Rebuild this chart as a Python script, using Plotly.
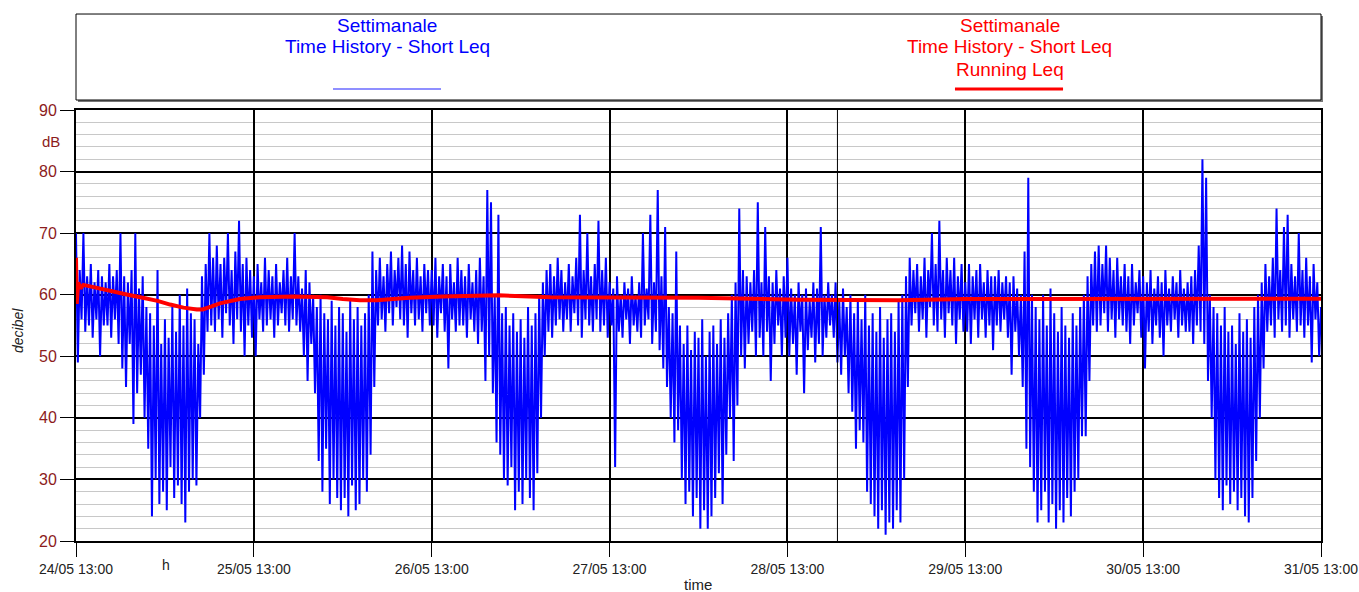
import pandas as pd
import plotly.graph_objects as go

blue = '#0000ff'
legend_blue = '#6a6aff'
red = '#ff0000'
tick_red = '#8c1c1c'
minor_grey = '#c8c8c8'
font_family = 'Arial, Liberation Sans, sans-serif'

start_time = '2023-05-24 13:00'
end_time = '2023-05-31 13:00'
marker_time = '2023-05-28 19:45'

# Short Leq, one value every 15 minutes from 13:00 (dB)
day1 = [70, 49, 64, 56, 70, 54, 63, 55,
        65, 53, 62, 56, 64, 50, 63, 55,
        62, 55, 65, 53, 63, 56, 64, 52,
        70, 48, 63, 45, 62, 52, 64, 39,
        70, 44, 61, 47, 63, 40, 58, 35,
        57, 24, 55, 30, 64, 26, 52, 28,
        56, 25, 53, 32, 58, 27, 54, 29,
        60, 26, 55, 23, 61, 28, 57, 30,
        56, 29, 52, 40, 63, 47, 65, 54,
        70, 55, 66, 54, 68, 56, 65, 53,
        66, 57, 70, 55, 64, 52, 67, 56,
        72, 54, 65, 50, 66, 55, 64, 53]
day2 = [63, 50, 65, 56, 62, 54, 66, 55,
        64, 56, 63, 53, 65, 55, 62, 57,
        64, 55, 66, 54, 63, 56, 70, 55,
        63, 54, 61, 50, 64, 46, 62, 52,
        60, 44, 58, 33, 60, 28, 57, 35,
        56, 26, 59, 30, 55, 27, 58, 25,
        57, 27, 54, 24, 59, 29, 56, 25,
        58, 26, 55, 30, 57, 28, 60, 34,
        67, 45, 64, 55, 66, 56, 63, 54,
        65, 57, 67, 55, 64, 58, 66, 56,
        68, 55, 65, 53, 67, 57, 64, 55,
        66, 56, 63, 54, 65, 57, 64, 55]
day3 = [64, 55, 66, 53, 63, 57, 65, 54,
        63, 48, 65, 56, 62, 54, 66, 55,
        64, 55, 63, 53, 65, 56, 62, 54,
        64, 52, 66, 54, 63, 46, 77, 50,
        75, 44, 60, 36, 73, 34, 57, 30,
        58, 29, 55, 32, 57, 25, 54, 28,
        56, 26, 53, 30, 58, 27, 55, 25,
        57, 31, 60, 40, 62, 50, 64, 54,
        65, 53, 63, 55, 66, 56, 64, 54,
        62, 56, 65, 54, 63, 57, 66, 55,
        73, 53, 64, 56, 70, 55, 63, 54,
        65, 56, 72, 54, 64, 55, 66, 53]
day4 = [62, 55, 61, 32, 63, 54, 60, 53,
        62, 56, 61, 52, 63, 55, 60, 54,
        62, 53, 70, 55, 61, 56, 73, 52,
        62, 54, 77, 51, 63, 48, 71, 45,
        58, 40, 57, 36, 67, 38, 55, 30,
        52, 26, 55, 28, 51, 24, 54, 27,
        53, 22, 56, 25, 50, 22, 54, 24,
        55, 27, 52, 31, 56, 26, 53, 34,
        57, 40, 60, 33, 62, 42, 74, 50,
        64, 48, 63, 52, 62, 54, 64, 50,
        75, 53, 62, 50, 71, 54, 63, 46,
        62, 52, 64, 55, 61, 50, 63, 53]
day5 = [66, 50, 61, 52, 60, 47, 62, 54,
        60, 44, 61, 51, 59, 53, 62, 49,
        61, 52, 71, 50, 60, 53, 62, 55,
        60, 53, 62, 49, 59, 47, 61, 50,
        58, 44, 60, 41, 57, 35, 59, 38,
        56, 36, 60, 28, 55, 26, 57, 24,
        54, 22, 58, 25, 53, 21, 56, 23,
        57, 22, 54, 25, 59, 23, 60, 30,
        63, 45, 66, 55, 64, 57, 65, 54,
        63, 56, 66, 53, 64, 58, 70, 55,
        65, 54, 72, 56, 64, 53, 66, 57,
        64, 55, 66, 52, 63, 56, 65, 54]
day6 = [62, 54, 65, 52, 63, 56, 64, 53,
        65, 56, 62, 53, 64, 55, 63, 51,
        63, 55, 64, 54, 62, 56, 63, 53,
        62, 47, 63, 54, 61, 50, 60, 45,
        67, 35, 79, 32, 60, 28, 58, 23,
        56, 25, 60, 28, 55, 23, 61, 26,
        57, 22, 54, 25, 58, 23, 55, 27,
        53, 24, 57, 28, 55, 30, 58, 37,
        60, 37, 63, 46, 65, 55, 67, 54,
        68, 55, 65, 57, 68, 54, 66, 56,
        64, 53, 66, 56, 63, 55, 65, 54,
        63, 52, 65, 55, 62, 57, 64, 53]
day7 = [63, 48, 62, 54, 64, 52, 61, 55,
        63, 53, 62, 50, 64, 55, 61, 54,
        63, 56, 62, 53, 64, 55, 61, 54,
        62, 54, 63, 52, 64, 55, 68, 54,
        82, 52, 79, 46, 60, 40, 58, 30,
        57, 27, 55, 25, 58, 29, 54, 26,
        55, 28, 52, 25, 57, 27, 54, 24,
        56, 23, 53, 27, 58, 33, 60, 40,
        62, 48, 65, 54, 63, 55, 66, 53,
        74, 56, 64, 54, 71, 55, 73, 53,
        65, 56, 63, 54, 70, 55, 64, 53,
        66, 55, 63, 49, 65, 56, 62, 50,
        58]

# Running Leq: hours after start, dB
running_hours = [0, 0.1, 0.3, 0.6, 1.0, 2.5, 4.6, 7, 9, 11, 12.7, 14.5, 16.3, 17.1,
                 18.3, 19.4, 22.1, 24.8, 29.3, 33.9, 36, 38.3, 40.6, 45, 49.5, 57,
                 64, 73, 84, 97.7, 111, 120, 135, 145, 150, 160, 168]
running_leq = [66, 58.5, 62, 61, 61.6, 61.2, 60.5, 60, 59.5, 59, 58.4, 57.9, 57.6, 57.6,
               58.1, 58.6, 59.3, 59.6, 59.7, 59.6, 59.3, 59.1, 59.1, 59.5, 59.7, 59.9,
               59.6, 59.6, 59.5, 59.2, 59.1, 59.3, 59.3, 59.2, 59.3, 59.35, 59.35]

blue_lines = ['Settimanale', 'Time History - Short Leq']
red_lines = ['Settimanale', 'Time History - Short Leq', 'Running Leq']

short_leq = day1 + day2 + day3 + day4 + day5 + day6 + day7
short_times = pd.date_range(start_time, periods=len(short_leq), freq='15min')
running_times = pd.Timestamp(start_time) + pd.to_timedelta(running_hours, unit='h')

fig = go.Figure()
fig.add_trace(go.Scatter(
    x=short_times, y=short_leq, mode='lines',
    line=dict(color=blue, width=2), showlegend=False
))
fig.add_trace(go.Scatter(
    x=running_times, y=running_leq, mode='lines',
    line=dict(color=red, width=4), showlegend=False
))

# legend box (paper coords, plot area is 1245 x 431 px)
fig.add_shape(type='rect', xref='paper', yref='paper',
              x0=0.0016, x1=1.0016, y0=1.0186, y1=1.2181,
              fillcolor='#777777', line_width=0, layer='below')
fig.add_shape(type='rect', xref='paper', yref='paper',
              x0=0, x1=1, y0=1.0232, y1=1.2227,
              fillcolor='white', line=dict(color='black', width=1), layer='below')
fig.add_shape(type='line', xref='paper', yref='paper',
              x0=0.2064, x1=0.2932, y0=1.0487, y1=1.0487,
              line=dict(color=legend_blue, width=1.5))
fig.add_shape(type='line', xref='paper', yref='paper',
              x0=0.706, x1=0.7928, y0=1.0487, y1=1.0487,
              line=dict(color=red, width=3))

fig.add_vline(x=pd.Timestamp(marker_time), line=dict(color='black', width=1))

line_y = [1.1972, 1.1462, 1.0951]
for i, t in enumerate(blue_lines):
    fig.add_annotation(text=t, x=0.2498, y=line_y[i], xref='paper', yref='paper',
                       showarrow=False, xanchor='center', yanchor='middle',
                       font=dict(color=blue, size=19))
for i, t in enumerate(red_lines):
    fig.add_annotation(text=t, x=0.7502, y=line_y[i], xref='paper', yref='paper',
                       showarrow=False, xanchor='center', yanchor='middle',
                       font=dict(color=red, size=19))

annotations = [
    dict(text='dB', x=-0.020, y=0.928, font=dict(color=tick_red, size=15)),
    dict(text='<i>decibel</i>', x=-0.0466, y=0.4896, textangle=-90,
         font=dict(color='#222222', size=14)),
    dict(text='h', x=0.0723, y=-0.0557, font=dict(color='#222222', size=14)),
    dict(text='time', x=0.4996, y=-0.102, font=dict(color='#222222', size=15)),
]
for a in annotations:
    fig.add_annotation(xref='paper', yref='paper', showarrow=False,
                       xanchor='center', yanchor='middle', **a)

fig.update_layout(
    width=1359, height=592,
    margin=dict(l=76, r=38, t=110, b=51),
    plot_bgcolor='white', paper_bgcolor='white',
    font=dict(family=font_family, color='#222222'),
)
fig.update_xaxes(
    type='date',
    range=[start_time, end_time],
    tick0=start_time, dtick=86400000,
    tickformat='%d/%m %H:%M',
    tickfont=dict(size=14, color='#222222'),
    showgrid=True, gridcolor='black', gridwidth=2,
    showline=True, linecolor='black', linewidth=2, mirror=True,
    ticks='outside', ticklen=14, tickcolor='black', tickwidth=1,
    zeroline=False, automargin=False,
)
fig.update_yaxes(
    range=[20, 90],
    tick0=20, dtick=10,
    tickfont=dict(size=16, color=tick_red),
    showgrid=True, gridcolor='black', gridwidth=1.5,
    showline=True, linecolor='black', linewidth=2, mirror=True,
    ticks='outside', ticklen=14, tickcolor='black', tickwidth=1,
    minor=dict(dtick=2, showgrid=True, gridcolor=minor_grey, gridwidth=1, ticks=''),
    zeroline=False, automargin=False,
)

config = {'displayModeBar': False}

# drop the default page margin so the figure sits at the window's corner
fig.write_html('out.html', config=config,
               post_script="document.body.style.margin='0';"
                           "document.body.style.overflow='hidden';")
